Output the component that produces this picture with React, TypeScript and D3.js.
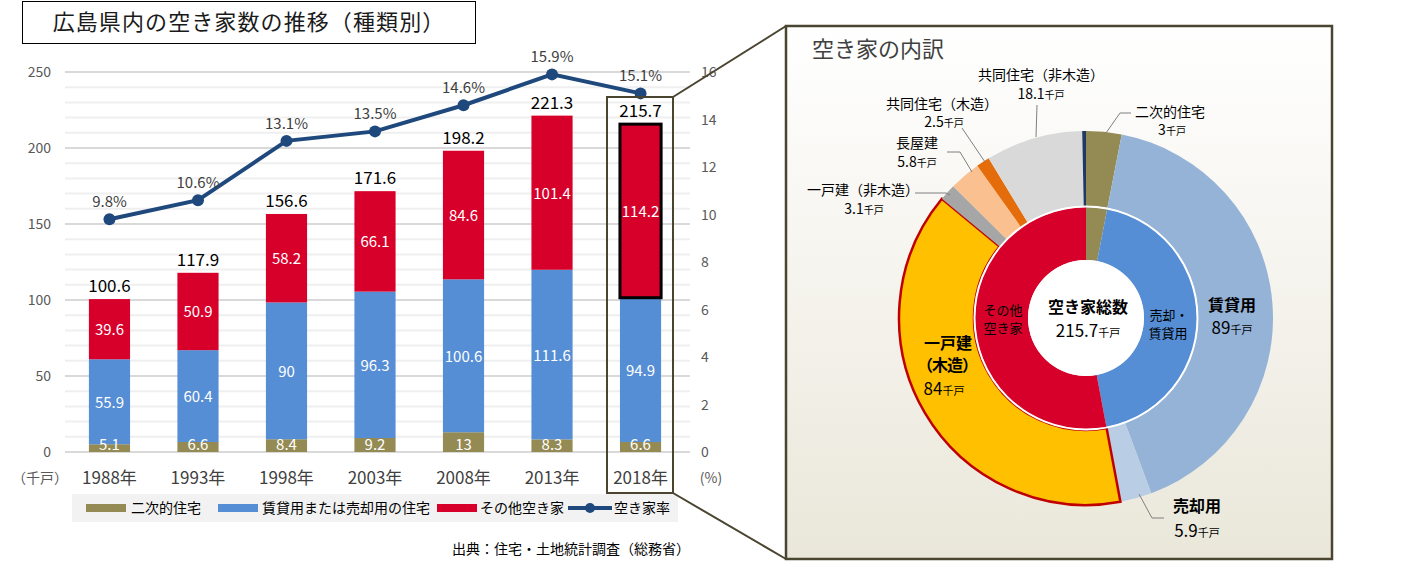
import React from "react";
import * as d3 from "d3";

// ---- data ----
const years = ["1988年", "1993年", "1998年", "2003年", "2008年", "2013年", "2018年"];
const secondHome = [5.1, 6.6, 8.4, 9.2, 13, 8.3, 6.6];
const rentSale = [55.9, 60.4, 90, 96.3, 100.6, 111.6, 94.9];
const otherVacant = [39.6, 50.9, 58.2, 66.1, 84.6, 101.4, 114.2];
const totals = [100.6, 117.9, 156.6, 171.6, 198.2, 221.3, 215.7];
const vacancyRate = [9.8, 10.6, 13.1, 13.5, 14.6, 15.9, 15.1];
const leftTicks = [0, 50, 100, 150, 200, 250];
const rightTicks = [0, 2, 4, 6, 8, 10, 12, 14, 16];
const legendNames = ["二次的住宅", "賃貸用または売却用の住宅", "その他空き家", "空き家率"];

const innerNames = ["二次的住宅", "売却・賃貸用", "その他空き家"];
const innerValues = [6.6, 94.9, 114.2];
const outerNames = ["二次的住宅", "賃貸用", "売却用", "一戸建（木造）", "一戸建（非木造）", "長屋建", "共同住宅（木造）", "共同住宅（非木造）", "その他"];
const outerValues = [6.6, 89, 5.9, 84, 3.1, 5.8, 2.5, 18.1, 0.7];
const outerLabelValues = ["3", "89", "5.9", "84", "3.1", "5.8", "2.5", "18.1", ""];

const FONT = "'Noto Sans CJK JP', 'Noto Sans', sans-serif";
const C_OLIVE = "#948a54";
const C_BLUE = "#558ed5";
const C_RED = "#d7002a";
const C_NAVY = "#1f497d";
const innerColors = [C_OLIVE, C_BLUE, C_RED];
const outerColors = [C_OLIVE, "#95b3d7", "#b9cde5", "#ffc000", "#a6a6a6", "#fac090", "#e46c0a", "#d9d9d9", "#1f3864"];

export default function App() {
  const x = d3.scaleBand<string>().domain(years).range([65, 685]).paddingInner(0.535).paddingOuter(0.27);
  const y = d3.scaleLinear().domain([0, 250]).range([452, 72]);
  const yr = d3.scaleLinear().domain([0, 16]).range([452, 72]);
  const bw = x.bandwidth();
  const cx = (yv: string) => (x(yv) as number) + bw / 2;

  const minor = d3.range(0, 251, 10);
  const line = d3.line<number>().x((_, i) => cx(years[i])).y((d) => yr(d));

  // donut
  const DC = { x: 1086, y: 318 };
  const pie = d3.pie<number>().sort(null).value((d) => d);
  const innerArcs = pie(innerValues);
  const outerArcs = pie(outerValues);
  const innerArc = d3.arc<d3.PieArcDatum<number>>().innerRadius(58).outerRadius(111);
  const outerArc = d3.arc<d3.PieArcDatum<number>>().innerRadius(112).outerRadius(187);

  const stacks = years.map((yv, i) => {
    const s0 = secondHome[i];
    const s1 = s0 + rentSale[i];
    const s2 = s1 + otherVacant[i];
    return [
      { y0: 0, y1: s0, v: secondHome[i], c: C_OLIVE },
      { y0: s0, y1: s1, v: rentSale[i], c: C_BLUE },
      { y0: s1, y1: s2, v: otherVacant[i], c: C_RED },
    ];
  });

  const small = (v: string) => (
    <>
      <tspan>{v}</tspan>
      <tspan fontSize={10}>千戸</tspan>
    </>
  );

  return (
    <svg width={1403} height={568} style={{ position: "absolute", left: 0, top: 0, fontFamily: FONT }}>
      <defs>
        <linearGradient id="pg" x1="0" y1="0" x2="0" y2="1">
          <stop offset="0" stopColor="#ffffff" />
          <stop offset="1" stopColor="#eae7da" />
        </linearGradient>
      </defs>
      <rect x={0} y={0} width={1403} height={568} fill="#fff" />

      {/* title */}
      <rect x={22.5} y={1.5} width={453} height={42} fill="#fff" stroke="#000" strokeWidth={1} />
      <text x={249} y={30} textAnchor="middle" fontSize={22} letterSpacing={1.1} fill="#1a1a1a">広島県内の空き家数の推移（種類別）</text>

      {/* gridlines */}
      {minor.map((t) => (
        <line key={t} x1={65} x2={690} y1={y(t)} y2={y(t)} stroke={t % 50 === 0 ? "#d9d9d9" : "#efefef"} strokeWidth={2} />
      ))}
      {leftTicks.map((t) => (
        <text key={t} x={51} y={y(t) + 5} textAnchor="end" fontSize={14} fill="#595959">{t}</text>
      ))}
      {rightTicks.map((t) => (
        <text key={t} x={701} y={yr(t) + 5} textAnchor="start" fontSize={14} fill="#595959">{t}</text>
      ))}

      {/* bars */}
      {stacks.map((st, i) => (
        <g key={years[i]}>
          {st.map((s, j) => (
            <rect key={j} x={x(years[i])} y={y(s.y1)} width={bw} height={y(s.y0) - y(s.y1)} fill={s.c}
              stroke={i === 6 && j === 2 ? "#000" : "none"} strokeWidth={3} />
          ))}
          {st.map((s, j) => (
            <text key={"t" + j} x={cx(years[i])} y={j === 0 ? y(0) - 2 : (y(s.y0) + y(s.y1)) / 2 + 6} textAnchor="middle" fontSize={15} fill="#fff">{s.v}</text>
          ))}
          <text x={cx(years[i])} y={y(totals[i]) - 7} textAnchor="middle" fontSize={17} fill="#000">{totals[i]}</text>
          <text x={cx(years[i])} y={484} textAnchor="middle" fontSize={17} fill="#404040">{years[i]}</text>
        </g>
      ))}

      {/* rate line */}
      <path d={line(vacancyRate) as string} fill="none" stroke={C_NAVY} strokeWidth={4} />
      {vacancyRate.map((v, i) => (
        <g key={i}>
          <circle cx={cx(years[i])} cy={yr(v)} r={6} fill={C_NAVY} />
          <text x={cx(years[i])} y={yr(v) - 12} textAnchor="middle" fontSize={15} fill="#404040">{v}%</text>
        </g>
      ))}

      <text x={40} y={483} textAnchor="middle" fontSize={14} fill="#595959">（千戸）</text>
      <text x={711} y={483} textAnchor="middle" fontSize={14} fill="#595959">(%)</text>

      {/* legend */}
      <rect x={72} y={494} width={606} height={28} fill="#f2f2f2" />
      <rect x={86} y={504} width={40} height={8} fill={C_OLIVE} />
      <text x={131} y={513} fontSize={14} fill="#000">{legendNames[0]}</text>
      <rect x={218} y={504} width={40} height={8} fill={C_BLUE} />
      <text x={262} y={513} fontSize={14} fill="#000">{legendNames[1]}</text>
      <rect x={437} y={504} width={40} height={8} fill={C_RED} />
      <text x={480} y={513} fontSize={14} fill="#000">{legendNames[2]}</text>
      <line x1={568} x2={612} y1={508} y2={508} stroke={C_NAVY} strokeWidth={4} />
      <circle cx={590} cy={508} r={5} fill={C_NAVY} />
      <text x={614} y={513} fontSize={14} fill="#000">{legendNames[3]}</text>

      <text x={690} y={554} textAnchor="end" fontSize={14} fill="#000">出典：住宅・土地統計調査（総務省）</text>

      {/* 2018 highlight box + connectors */}
      <rect x={607} y={97} width={66} height={396} fill="none" stroke="#4a4530" strokeWidth={2} />
      <line x1={673} y1={97} x2={786} y2={26} stroke="#4a4530" strokeWidth={2} />
      <line x1={673} y1={493} x2={786} y2={559} stroke="#4a4530" strokeWidth={2} />

      {/* right panel */}
      <rect x={786} y={26} width={546} height={533} fill="url(#pg)" stroke="#4a4530" strokeWidth={2.5} />
      <text x={812} y={57} fontSize={22} fill="#404040">空き家の内訳</text>

      <g transform={`translate(${DC.x},${DC.y})`}>
        {outerArcs.map((a, i) => (
          <path key={outerNames[i]} d={outerArc(a) as string} fill={outerColors[i]}
            stroke={i === 3 ? "#c00000" : "none"} strokeWidth={2.5} />
        ))}
        {innerArcs.map((a, i) => (
          <path key={innerNames[i]} d={innerArc(a) as string} fill={innerColors[i]} />
        ))}
        <circle r={111.5} fill="none" stroke="#fff" strokeWidth={2} />
        <circle r={58} fill="#fff" />
      </g>

      {/* donut labels */}
      <g fontSize={14} fill="#000" textAnchor="middle">
        <text x={1088} y={313} fontWeight="bold" fontSize={16}>空き家総数</text>
        <text x={1088} y={337} fontSize={17}><tspan>215.7</tspan><tspan fontSize={11}>千戸</tspan></text>
        <text x={1003} y={315} fontSize={13}>その他</text>
        <text x={1003} y={333} fontSize={13}>空き家</text>
        <text x={1169} y={320} fontSize={13}>売却・</text>
        <text x={1168} y={338} fontSize={13}>賃貸用</text>

        <text x={1232} y={311} fontWeight="bold" fontSize={16}>{outerNames[1]}</text>
        <text x={1232} y={334} fontSize={17}><tspan>{outerLabelValues[1]}</tspan><tspan fontSize={11}>千戸</tspan></text>

        <text x={1197} y={512} fontWeight="bold" fontSize={16}>{outerNames[2]}</text>
        <text x={1197} y={537} fontSize={17}><tspan>{outerLabelValues[2]}</tspan><tspan fontSize={11}>千戸</tspan></text>

        <text x={948} y={349} fontWeight="bold" fontSize={16}>一戸建</text>
        <text x={947} y={371} fontWeight="bold" fontSize={16} letterSpacing={-1}>（木造）</text>
        <text x={944} y={395} fontSize={17}><tspan>{outerLabelValues[3]}</tspan><tspan fontSize={11}>千戸</tspan></text>

        <text x={1170} y={117} fontSize={14}>{outerNames[0]}</text>
        <text x={1172} y={135} fontSize={14}>{small(outerLabelValues[0])}</text>

        <text x={1041} y={80} fontSize={14}>{outerNames[7]}</text>
        <text x={1041} y={99} fontSize={14}>{small(outerLabelValues[7])}</text>

        <text x={942} y={109} fontSize={14}>{outerNames[6]}</text>
        <text x={944} y={127} fontSize={14}>{small(outerLabelValues[6])}</text>

        <text x={917} y={148} fontSize={14}>{outerNames[5]}</text>
        <text x={917} y={167} fontSize={14}>{small(outerLabelValues[5])}</text>

        <text x={863} y={195} fontSize={14}>{outerNames[4]}</text>
        <text x={864} y={214} fontSize={14}>{small(outerLabelValues[4])}</text>
      </g>

      {/* leader lines */}
      <g stroke="#7f7f7f" strokeWidth={1} fill="none">
        <polyline points="1037,105 1036,137" />
        <polyline points="1131,113 1120,113 1106,133" />
        <polyline points="962,128 985,162" />
        <polyline points="947,152 960,152 972,172" />
        <polyline points="915,193 946,193 950,195" />
        <polyline points="1139,494 1152,518 1164,518" />
      </g>
    </svg>
  );
}
